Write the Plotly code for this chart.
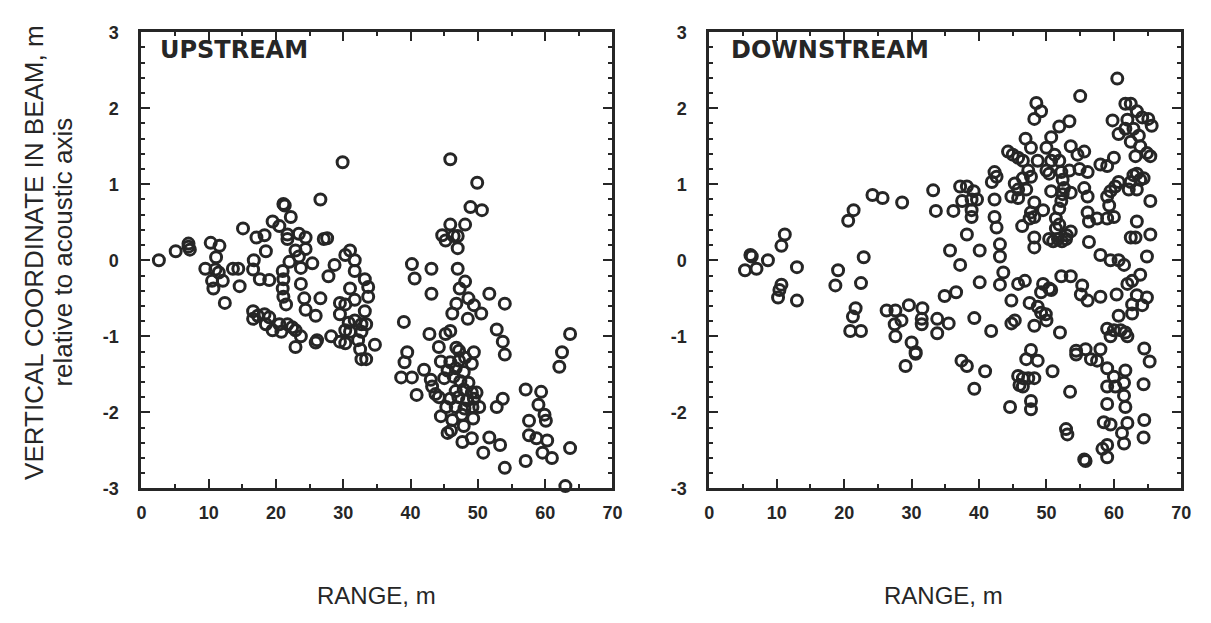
import plotly.graph_objects as go

# ---- data ----
up_pts = [
    (29.9,1.29),(2.6,0.0),(5.1,0.12),(7.0,0.18),(7.2,0.14),(7.0,0.22),(10.3,0.23),(11.6,0.19),(11.1,0.04),
    (9.5,-0.11),(11.0,-0.12),(11.5,-0.16),(10.5,-0.27),(10.7,-0.37),(12.1,-0.27),(12.4,-0.56),(13.6,-0.11),
    (14.4,-0.11),(14.6,-0.34),(15.1,0.42),(16.7,0.0),(16.6,-0.12),(17.1,0.3),(18.3,0.33),(18.5,0.12),
    (17.6,-0.25),(19.0,-0.26),(19.5,0.51),(20.5,0.45),(21.1,0.74),(21.3,0.72),(22.2,0.57),(21.7,0.34),
    (21.7,0.28),(23.4,0.35),(24.4,0.3),(22.9,0.13),(24.4,0.15),(23.4,0.05),(22.0,-0.02),(23.7,-0.1),
    (25.4,-0.04),(21.0,-0.14),(21.1,-0.25),(21.0,-0.37),(23.7,-0.31),(21.1,-0.48),(21.5,-0.58),(24.2,-0.5),
    (24.4,-0.65),(25.9,-0.73),(26.6,-0.5),(16.6,-0.67),(17.3,-0.73),(16.6,-0.77),(18.3,-0.71),(19.0,-0.75),
    (18.5,-0.84),(19.5,-0.92),(20.5,-0.84),(20.8,-0.94),(21.7,-0.84),(22.4,-0.88),(22.9,-0.92),(23.7,-1.0),
    (22.9,-1.14),(27.1,0.28),(27.6,0.29),(26.6,0.8),(31.0,0.13),(30.3,0.07),(31.7,0.0),(28.7,-0.06),
    (27.8,-0.21),(31.7,-0.14),(33.2,-0.25),(33.7,-0.35),(31.0,-0.37),(33.7,-0.48),(29.5,-0.56),(30.3,-0.58),
    (31.7,-0.52),(33.2,-0.67),(29.5,-0.71),(30.8,-0.82),(31.7,-0.79),(32.7,-0.84),(33.4,-0.84),(30.3,-0.92),
    (31.0,-0.94),(32.7,-0.94),(29.5,-1.07),(30.3,-1.09),(28.2,-1.0),(26.1,-1.05),(25.9,-1.08),(32.2,-1.05),
    (32.5,-1.17),(32.7,-1.30),(33.4,-1.30),(34.7,-1.11),
    (45.9,1.33),(49.9,1.02),(48.9,0.70),(50.6,0.66),(45.9,0.47),(48.1,0.47),(44.7,0.33),(45.2,0.26),
    (46.4,0.32),(47.0,0.32),(47.0,0.16),(40.2,-0.05),(40.6,-0.24),(43.1,-0.11),(47.0,-0.11),(48.1,-0.28),
    (47.3,-0.37),(43.1,-0.44),(48.6,-0.5),(49.4,-0.59),(46.8,-0.57),(51.7,-0.44),(54.0,-0.57),(46.2,-0.70),
    (48.5,-0.77),(50.5,-0.70),(39.0,-0.81),(42.8,-0.97),(45.2,-0.97),(45.9,-0.93),(52.8,-0.91),(53.7,-1.07),
    (63.7,-0.97),
    (54.0,-1.24),(62.5,-1.21),(62.1,-1.40),(39.5,-1.21),(39.1,-1.34),(38.6,-1.54),(40.2,-1.54),(42.0,-1.44),
    (40.9,-1.77),(44.2,-1.14),(46.8,-1.15),(47.2,-1.19),(49.4,-1.21),(44.5,-1.33),(45.9,-1.34),(47.2,-1.32),
    (48.1,-1.28),(49.1,-1.36),(45.5,-1.45),(46.7,-1.42),(47.9,-1.47),(43.0,-1.57),(43.2,-1.66),(43.7,-1.76),
    (44.2,-1.80),(45.0,-1.55),(46.4,-1.53),(47.4,-1.59),(48.6,-1.61),(46.7,-1.72),(47.9,-1.70),(49.1,-1.74),
    (49.8,-1.74),(45.9,-1.82),(47.1,-1.80),(48.4,-1.84),(49.4,-1.82),(45.3,-1.93),(46.7,-1.93),(48.0,-1.95),
    (49.2,-1.93),(50.2,-1.93),(44.5,-2.05),(46.2,-2.10),(47.6,-2.03),(49.3,-2.08),(45.5,-2.27),(46.0,-2.24),
    (47.9,-2.18),(47.7,-2.39),(49.1,-2.34),(50.8,-2.53),(51.7,-2.33),(53.3,-2.43),(54.0,-2.73),(52.8,-1.93),
    (53.7,-1.82),(57.1,-1.70),(57.6,-2.11),(57.6,-2.30),(58.7,-2.34),(59.4,-1.73),(59.0,-1.90),(59.9,-2.03),
    (60.1,-2.11),(60.3,-2.37),(59.6,-2.53),(61.0,-2.60),(57.1,-2.64),(63.7,-2.47),(63.0,-2.97),
]

down_pts = [
    (20.6,0.52),(11.2,0.34),(10.7,0.19),(6.1,0.07),(6.3,0.05),(8.7,0.0),(5.3,-0.13),(7.0,-0.11),(13.0,-0.09),
    (10.7,-0.32),(10.4,-0.39),(10.2,-0.49),(13.0,-0.53),(22.9,0.04),(19.1,-0.13),(18.7,-0.33),(22.5,-0.30),
    (21.7,-0.63),(21.3,-0.74),(20.9,-0.93),(22.5,-0.93),(26.3,-0.66),(27.6,-0.66),(27.5,-0.84),(28.5,-0.79),
    (27.6,-1.00),(29.6,-0.59),(31.6,-0.63),(31.5,-0.77),(31.5,-0.84),(33.8,-0.77),(33.8,-0.96),(30.0,-1.08),
    (30.6,-1.21),(30.6,-1.23),(29.1,-1.39),(34.9,-0.47),
    (33.2,0.92),(28.6,0.76),(24.2,0.86),(25.7,0.82),(21.4,0.66),
    (60.5,2.39),(55.0,2.16),(48.5,2.07),(49.2,1.96),(48.2,1.86),(61.7,2.06),(62.5,2.06),(63.4,1.96),
    (64.2,1.88),(65.1,1.86),(65.6,1.77),(59.8,1.84),(53.4,1.83),(51.9,1.76),(50.7,1.62),(62.0,1.85),
    (61.7,1.73),(60.7,1.66),(62.9,1.73),(63.7,1.64),(62.5,1.56),(63.9,1.50),(63.2,1.37),(65.4,1.37),
    (64.9,1.41),(60.0,1.35),(58.0,1.26),(59.0,1.24),(46.9,1.60),(47.7,1.48),(44.3,1.43),(45.0,1.39),
    (45.8,1.35),(46.5,1.31),(50.0,1.48),(51.2,1.39),(51.9,1.31),(50.7,1.31),(53.6,1.50),(55.6,1.43),
    (54.6,1.39),(48.7,1.31),(47.3,1.18),(47.7,1.10),(50.0,1.18),(50.4,1.14),(52.2,1.16),(53.4,1.18),
    (54.9,1.20),(56.1,1.16),(62.9,1.12),(63.4,1.14),(63.9,1.06),(64.4,1.08),(62.5,1.03),(60.7,1.03),
    (60.2,0.97),(59.5,0.91),(63.4,0.93),(62.2,0.93),(65.4,0.78),(41.9,1.03),(42.6,1.10),(42.3,1.16),
    (45.3,1.01),(46.5,1.08),(45.8,0.93),(44.8,0.84),(45.8,0.82),(47.0,0.93),(52.4,1.06),(52.6,0.95),
    (52.4,0.87),(53.6,0.89),(50.7,0.91),(55.6,0.95),(56.1,0.84),(59.0,0.84),(37.2,0.97),(38.2,0.97),
    (39.2,0.91),(37.5,0.78),(38.9,0.80),(39.7,0.80),(33.6,0.65),(36.2,0.65),(38.9,0.66),(38.9,0.57),
    (42.3,0.80),(42.3,0.57),(42.6,0.43),(48.2,0.76),(47.7,0.63),(49.5,0.66),(47.5,0.55),(48.2,0.57),
    (46.4,0.45),(52.2,0.78),(51.9,0.68),(51.4,0.55),(51.9,0.47),(51.4,0.42),(56.1,0.63),(56.3,0.51),
    (57.5,0.55),(59.0,0.55),(60.0,0.57),(59.3,0.72),(63.4,0.51),(65.4,0.34),(62.5,0.30),(63.2,0.30),
    (38.2,0.34),(35.7,0.13),(40.1,0.13),(43.1,0.21),(43.1,0.05),(37.2,-0.06),(43.6,-0.16),(40.1,-0.29),
    (43.1,-0.32),(45.8,-0.31),(46.8,-0.27),(49.5,-0.31),(50.4,-0.37),(48.2,0.30),(48.2,0.17),(50.4,0.28),
    (51.0,0.25),(51.7,0.28),(52.3,0.25),(52.9,0.28),(53.0,0.33),(53.6,0.38),(56.3,0.24),(58.0,0.07),
    (59.5,0.0),(60.7,0.0),(61.5,-0.06),(64.9,0.05),(52.2,-0.21),(53.6,-0.21),(55.3,-0.33),(63.9,-0.19),
    (62.7,-0.27),(62.0,-0.31),(36.6,-0.42),
    (35.5,-0.83),(39.3,-0.76),(41.8,-0.93),(44.8,-0.53),(44.8,-0.83),(45.3,-0.79),(47.5,-0.56),(48.7,-0.61),
    (49.2,-0.69),(49.9,-0.71),(50.0,-0.79),(48.2,-0.86),(49.2,-0.42),(50.7,-0.39),(52.0,-0.95),(55.1,-0.45),
    (56.1,-0.53),(58.0,-0.48),(60.4,-0.45),(63.4,-0.46),(64.9,-0.49),(62.7,-0.58),(64.2,-0.59),(60.7,-0.73),
    (62.7,-0.70),(59.0,-0.90),(60.0,-0.92),(61.0,-0.92),(61.7,-0.95),(62.0,-1.0),(59.5,-1.0),(54.4,-1.19),
    (54.4,-1.24),(55.8,-1.17),(56.6,-1.30),(57.5,-1.32),(58.0,-1.17),(59.0,-1.42),(60.0,-1.53),(61.7,-1.45),
    (61.5,-1.61),(59.0,-1.66),(60.2,-1.66),(61.5,-1.78),(61.7,-1.93),(59.0,-1.89),(64.5,-1.16),(65.3,-1.33),
    (64.4,-1.63),(58.5,-2.13),(59.5,-2.16),(62.0,-2.14),(61.2,-2.27),(61.5,-2.41),(58.3,-2.48),(59.0,-2.43),
    (59.0,-2.59),(64.5,-2.10),(64.4,-2.33),(55.8,-2.64),(55.6,-2.62),(52.9,-2.22),(53.1,-2.29),(53.5,-1.73),
    (50.9,-1.46),(47.7,-1.18),(47.0,-1.30),(48.7,-1.32),(45.8,-1.52),(46.5,-1.55),(46.0,-1.64),(47.3,-1.55),
    (48.2,-1.55),(46.5,-1.66),(47.7,-1.85),(47.7,-1.96),(44.6,-1.93),(37.4,-1.32),(38.2,-1.39),(40.9,-1.46),
    (39.3,-1.69),
]

up_range = [p[0] for p in up_pts]
up_vert = [p[1] for p in up_pts]
down_range = [p[0] for p in down_pts]
down_vert = [p[1] for p in down_pts]

panel_titles = ["UPSTREAM", "DOWNSTREAM"]
x_ticks = [0, 10, 20, 30, 40, 50, 60, 70]
x_ticktext = ["0", "10", "20", "30", "40", "50", "60", "70"]
y_ticks = [-3, -2, -1, 0, 1, 2, 3]
y_ticktext = ["-3", "-2", "-1", "0", "1", "2", "3"]

INK = "#262626"
W, H = 1211, 623
OFF = 8  # page body margin offset

def px_x(p):
    return (p - OFF) / W

def px_y(p):
    return 1 - (p - OFF) / H

fig = go.Figure()
marker = dict(symbol="circle-open", size=11, color=INK, line=dict(width=3, color=INK))
fig.add_trace(go.Scatter(x=up_range, y=up_vert, mode="markers", marker=marker,
                         xaxis="x", yaxis="y", cliponaxis=False, showlegend=False))
fig.add_trace(go.Scatter(x=down_range, y=down_vert, mode="markers", marker=marker,
                         xaxis="x2", yaxis="y2", cliponaxis=False, showlegend=False))

tickfont = dict(family="Liberation Sans, Arial, sans-serif", size=18, color=INK, weight="bold")

def xax(domain, anchor):
    return dict(domain=domain, anchor=anchor, range=[0, 70], tickvals=x_ticks, ticktext=x_ticktext,
                ticks="inside", ticklen=9, tickwidth=2, tickcolor=INK,
                showline=True, linewidth=3, linecolor=INK, mirror="ticks",
                showgrid=False, zeroline=False, tickfont=tickfont, ticklabelstandoff=6,
                minor=dict(dtick=5, ticks="inside", ticklen=4, tickwidth=2, tickcolor=INK, showgrid=False))

def yax(domain, anchor):
    return dict(domain=domain, anchor=anchor, range=[-3, 3], tickvals=y_ticks, ticktext=y_ticktext,
                ticks="inside", ticklen=9, tickwidth=2, tickcolor=INK,
                showline=True, linewidth=3, linecolor=INK, mirror="ticks",
                showgrid=False, zeroline=False, tickfont=tickfont, ticklabelstandoff=16,
                minor=dict(dtick=0.2, ticks="inside", ticklen=4, tickwidth=2, tickcolor=INK, showgrid=False))

ydom = [px_y(494), px_y(22.7)]
fig.update_layout(
    width=W, height=H, margin=dict(l=0, r=0, t=0, b=0),
    paper_bgcolor="white", plot_bgcolor="white",
    xaxis=xax([px_x(138), px_x(615)], "y"),
    yaxis=yax(ydom, "x"),
    xaxis2=xax([px_x(713), px_x(1191)], "y2"),
    yaxis2=yax(ydom, "x2"),
)

annos = []
title_font = dict(family="DejaVu Sans, sans-serif", size=24, color=INK, weight="bold")
annos.append(dict(text=panel_titles[0], x=px_x(155), y=px_y(41), xref="paper", yref="paper",
                  xanchor="left", yanchor="middle", showarrow=False, font=title_font))
annos.append(dict(text=panel_titles[1], x=px_x(733), y=px_y(41), xref="paper", yref="paper",
                  xanchor="left", yanchor="middle", showarrow=False, font=title_font))
xt_font = dict(family="Liberation Sans, Arial, sans-serif", size=24, color=INK)
for cx in (376, 950):
    annos.append(dict(text="RANGE, m", x=px_x(cx), y=px_y(605), xref="paper", yref="paper",
                      xanchor="center", yanchor="middle", showarrow=False, font=xt_font))
yt_font = dict(family="Liberation Sans, Arial, sans-serif", size=26, color=INK)
annos.append(dict(text="VERTICAL COORDINATE IN BEAM, m", x=px_x(30), y=px_y(250), xref="paper", yref="paper",
                  xanchor="center", yanchor="middle", textangle=-90, showarrow=False, font=yt_font))
annos.append(dict(text="relative to acoustic axis", x=px_x(59), y=px_y(250), xref="paper", yref="paper",
                  xanchor="center", yanchor="middle", textangle=-90, showarrow=False, font=yt_font))
fig.update_layout(annotations=annos)

fig.write_html("out.html")
